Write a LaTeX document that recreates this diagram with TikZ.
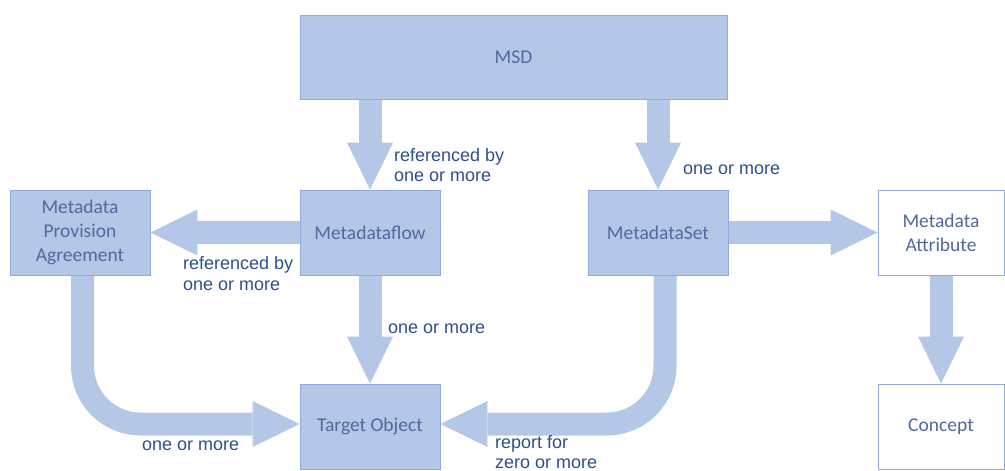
\documentclass[tikz,border=0pt]{standalone}
\usepackage{fontspec}
\setmainfont{Liberation Sans}
\newfontfamily\boxfont{Carlito}
\usetikzlibrary{arrows.meta,backgrounds}
\definecolor{boxfill}{HTML}{B4C7E7}
\definecolor{boxline}{HTML}{8FAADC}
\definecolor{boxtext}{HTML}{50699E}
\definecolor{labtext}{HTML}{2F4F8C}
\definecolor{arrowc}{HTML}{B4C7E7}
\begin{document}
\begin{tikzpicture}[x=1pt,y=-1pt,
  box/.style={draw=boxline, line width=0.9pt, fill=boxfill, minimum width=140pt,
    minimum height=85pt, inner sep=0pt, align=center, text=boxtext,
    font=\boxfont\fontsize{19.5}{24}\selectfont},
  wbox/.style={box, fill=white, minimum width=126pt},
  lab/.style={anchor=base west, inner sep=0pt, text=labtext,
    font=\fontsize{18}{21}\selectfont},
  bigarrow/.style={draw=arrowc, line width=23pt,
    -{Triangle[length=47pt,width=46pt,line width=0pt]}}]
\useasboundingbox (0,0) rectangle (1005,471);
\clip (0,0) rectangle (1005,471);

\node[box, minimum width=427pt, minimum height=84pt] (msd) at (513.5,57) {MSD};
\node[box] (mpa) at (80,232.5) {Metadata\\Provision\\Agreement};
\node[box] (mf) at (370,232.5) {Metadataflow};
\node[box] (ms) at (658,232.5) {MetadataSet};
\node[wbox] (ma) at (941,232.5) {Metadata\\Attribute};
\node[box] (to) at (370,426.5) {Target Object};
\node[wbox] (co) at (941,426.5) {Concept};

\begin{scope}[on background layer]
  \draw[bigarrow] (mf.north |- msd.south) -- (mf.north);
  \draw[bigarrow] (ms.north |- msd.south) -- (ms.north);
  \draw[bigarrow] (mf.west) -- (mpa.east);
  \draw[bigarrow] (mf.south) -- (to.north);
  \draw[bigarrow] (ms.east) -- (ma.west);
  \draw[bigarrow] (ma.south) -- (co.north);
  \draw[bigarrow, rounded corners=58pt] ([xshift=2.5pt]mpa.south) |- ([yshift=2.5pt]to.west);
  \draw[bigarrow, rounded corners=58pt] ([xshift=7pt]ms.south) |- ([yshift=2.5pt]to.east);
\end{scope}

\node[lab] (l1a) at (394,161) {referenced by};
\node[lab] (l1b) at (394,181) {one or more};
\node[lab] (l2) at (683,174) {one or more};
\node[lab] (l3a) at (183,269) {referenced by};
\node[lab] (l3b) at (183,290) {one or more};
\node[lab] (l4) at (388,333) {one or more};
\node[lab] (l5) at (142,450) {one or more};
\node[lab] (l6a) at (495,448) {report for};
\node[lab] (l6b) at (495,468) {zero or more};
\end{tikzpicture}
\end{document}
